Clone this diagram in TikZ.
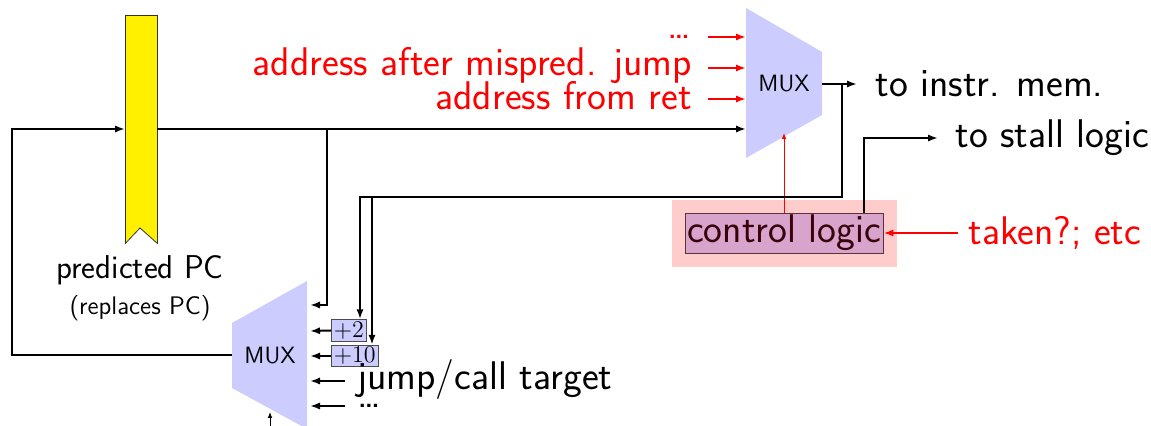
\documentclass[tikz,border=0pt]{standalone}
\usetikzlibrary{arrows.meta}
\definecolor{muxfill}{RGB}{204,204,255}
\definecolor{regfill}{RGB}{255,240,0}
\definecolor{ctlfill}{RGB}{216,164,204}
\definecolor{ctlback}{RGB}{255,204,204}
\definecolor{ctltext}{RGB}{55,0,10}
\definecolor{ctledge}{RGB}{90,50,60}
\begin{document}
\begin{tikzpicture}[x=0.5pt,y=-0.5pt,
  every node/.style={font=\sffamily\fontsize{20}{24}\selectfont},
  wire/.style={line width=1pt,-{Latex[length=5pt,width=3.6pt]}},
  redwire/.style={red,line width=1pt,-{Latex[length=5pt,width=3.6pt]}},
  selwire/.style={line width=0.5pt,-{Latex[length=3pt,width=2.4pt]}},
  muxlabel/.style={font=\sffamily\fontsize{11.8}{13}\selectfont},
  inclbox/.style={draw=black!70,fill=muxfill,inner xsep=1.2pt,inner ysep=0pt,
    minimum height=10.8pt,anchor=west,font=\fontsize{11.8}{12}\selectfont},
  tag/.style={inner sep=0pt}]
\useasboundingbox (0,0) rectangle (1151,426);

% predicted PC register
\node[draw=black!80,fill=regfill,minimum width=16pt,minimum height=114pt,
  inner sep=0pt,anchor=north west] (pc) at (125,15) {};
\draw[fill=white,draw=black!80] (pc.south west) -- (140,228) -- (pc.south east);
\node[font=\sffamily\fontsize{16.5}{19}\selectfont] (pcname) at (140,270) {predicted PC};
\node[font=\sffamily\fontsize{12.7}{15}\selectfont] (pcnote) at (140,308) {(replaces PC)};

% upper multiplexer
\fill[muxfill] (746,8) -- (822,52) -- (822,115) -- (746,158) -- cycle;
\node[muxlabel] (muxA) at (784,84) {MUX};
\coordinate (aIn1) at (746,37);
\coordinate (aIn2) at (746,68);
\coordinate (aIn3) at (746,99);
\coordinate (aIn4) at (746,129);
\coordinate (aSel) at (784,133);
\coordinate (aOut) at (822,84);

% lower multiplexer
\fill[muxfill] (232,323) -- (307,281) -- (307,429) -- (232,388) -- cycle;
\node[muxlabel] (muxB) at (270,356) {MUX};
\coordinate (bIn1) at (310,305);
\coordinate (bIn2) at (310,331);
\coordinate (bIn3) at (310,356);
\coordinate (bIn4) at (310,381);
\coordinate (bIn5) at (310,406);
\coordinate (bSel) at (270,412);
\coordinate (bSelFoot) at (270,430);
\coordinate (bOut) at (232,355);

% increment boxes
\node[inclbox] (inc2) at (331,330.5) {$+2$};
\node[inclbox] (inc10) at (331,356) {$+10$};

% red inputs of the upper multiplexer
\node[tag,red,anchor=base east] (inDots) at (692,39) {\ldots};
\node[tag,red,anchor=base east] (inJump) at (692,76) {address after mispred. jump};
\node[tag,red,anchor=base east] (inRet) at (692,110) {address from ret};
\draw[redwire] ([xshift=8pt]inDots.east |- aIn1) -- (aIn1);
\draw[redwire] ([xshift=8pt]inJump.east |- aIn2) -- (aIn2);
\draw[redwire] ([xshift=8pt]inRet.east |- aIn3) -- (aIn3);

% control logic
\fill[ctlback] (672,200) rectangle (897,267);
\node[draw=ctledge,fill=ctlfill,text=ctltext,minimum width=99pt,minimum height=20pt,
  inner sep=0pt] (ctl) at (784,233) {control logic};
\node[tag,red,anchor=west] (taken) at (968,233) {taken?; etc};
\draw[redwire] ([xshift=-5pt]taken.west) -- (ctl.east);
\draw[red,selwire] (ctl.north -| aSel) -- (aSel);

% outputs
\node[tag,anchor=west] (imem) at (875,84) {to instr. mem.};
\draw[wire] (aOut) -- ([xshift=-9pt]imem.west);
\node[tag,anchor=west] (stall) at (955,138) {to stall logic};
\coordinate (stallX) at (864,0);
\draw[wire] (ctl.north -| stallX) |- ([xshift=-8.5pt]stall.west);

% PC to upper multiplexer, with a branch to the lower one
\coordinate (pcOut) at (157,129);
\coordinate (branch) at (327,129);
\draw[wire] (pcOut) -- (aIn4);
\draw[wire] (branch) |- (bIn1);

% fed-back upper output into the increment boxes
\coordinate (tapA) at (842,84);
\coordinate (turn2) at (360,197);
\coordinate (turn10) at (372,197);
\draw[wire] (tapA) |- (turn2) -- (turn2 |- inc2.north);
\draw[wire] (tapA) |- (turn10) -- (turn10 |- inc10.north);
\draw[wire] (inc2.west) -- (bIn2);
\draw[wire] (inc10.west) -- (bIn3);

% other inputs of the lower multiplexer
\node[tag,anchor=base west] (jtarget) at (357,390) {jump/call target};
\node[tag,anchor=base west] (bDots) at (357,408) {\ldots};
\draw[wire] (345,381) -- (bIn4);
\draw[wire] (345,406) -- (bIn5);
\draw[selwire] (bSelFoot) -- (bSel);

% lower multiplexer back into the register
\coordinate (pcIn) at (125,129);
\draw[wire] (bOut) -- (12,355) |- (pcIn);
\end{tikzpicture}
\end{document}
